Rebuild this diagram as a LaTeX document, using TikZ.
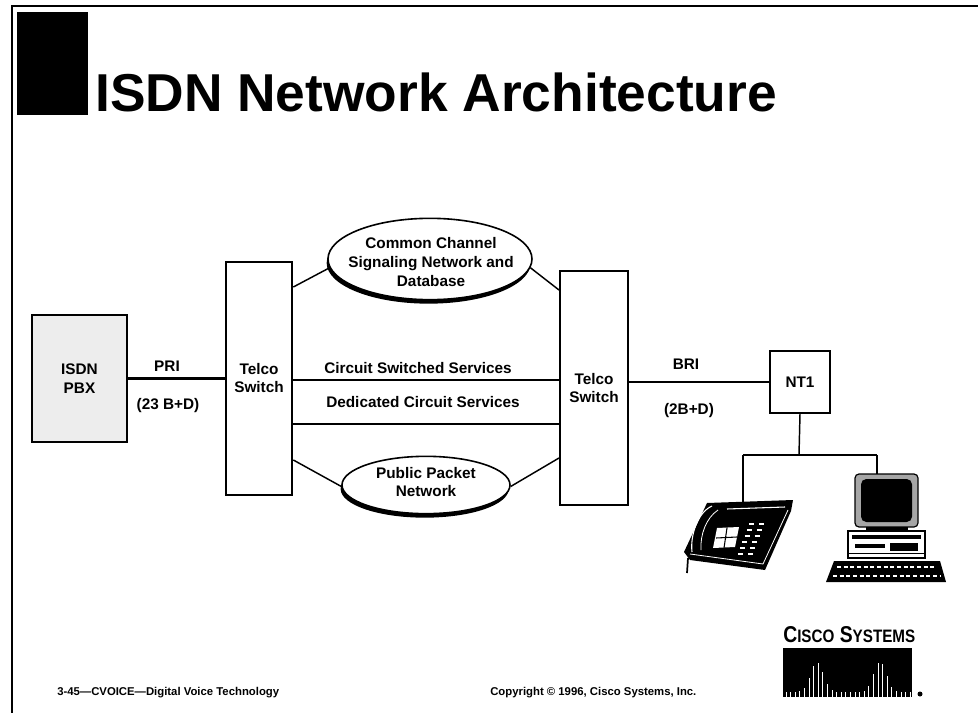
\documentclass[tikz,border=0pt]{standalone}
\usepackage{fontspec}
\setmainfont{Liberation Sans}
\usetikzlibrary{shapes.geometric,shadows}

\begin{document}
\begin{tikzpicture}[x=0.75pt,y=-0.75pt,
  lbl/.style={inner sep=0pt,align=center,font=\bfseries\fontsize{11.5}{14}\selectfont},
  swbox/.style={draw,line width=1.5pt,minimum width=50pt,minimum height=175pt,inner sep=0pt,align=center,font=\bfseries\fontsize{11.5}{13.5}\selectfont},
  netoval/.style={ellipse,draw,line width=1.2pt,fill=white,inner sep=0pt,
    drop shadow={shadow xshift=-1pt,shadow yshift=-3pt,opacity=1,fill=black}},
  link/.style={line width=1.1pt},
  trunk/.style={line width=1.9pt}]
\useasboundingbox (0,0) rectangle (978,713);

% page frame and title
\draw[line width=1.3pt] (978,6) -- (12,6) -- (12,713);
\fill (17,12) rectangle (88,115);
\node[anchor=base west,inner sep=0pt,font=\bfseries\fontsize{40}{40}\selectfont] (title) at (95,112) {ISDN Network Architecture};

% customer premises and switches
\node[draw,line width=1.5pt,fill=black!7,minimum width=71pt,minimum height=95pt,inner sep=0pt,align=center,
  font=\bfseries\fontsize{11.5}{14.5}\selectfont] (pbx) at (79.5,378.5) {ISDN\\PBX};
\node[swbox] (lsw) at (259,378.5) {Telco\\Switch};
\node[swbox,minimum width=51pt] (rsw) at (594,388) {Telco\\Switch};
\node[draw,line width=1.3pt,minimum width=45pt,minimum height=46.5pt,inner sep=0pt,
  font=\bfseries\fontsize{11.5}{14}\selectfont] (nt1) at (800,382) {NT1};

% carrier networks
\node[netoval,minimum width=153pt,minimum height=61pt] (ccs) at (430,259) {};
\node[lbl] (ccstxt) at (431,262) {Common Channel\\Signaling Network and\\Database};
\node[netoval,minimum width=126pt,minimum height=43pt] (ppn) at (426,485) {};
\node[lbl] (ppntxt) at (426,482) {Public Packet\\Network};

% trunks
\draw[trunk] (pbx.east) -- (lsw.west);
\node[lbl] (pri) at (167,366) {PRI};
\node[lbl] (prich) at (168,406) {(23 B+D)};
\draw[trunk] (rsw.east |- nt1.west) -- (nt1.west);
\node[lbl] (bri) at (686,364) {BRI};
\node[lbl] (brich) at (689,411) {(2B+D)};

% switch to switch
\draw[link] (lsw.east |- 0,287) -- (ccs.185);
\draw[link] (ccs.355) -- (rsw.west |- 0,290);
\draw[link] (lsw.east |- 0,460) -- (ppn.181);
\draw[link] (ppn.359) -- (rsw.west |- 0,458);
\draw[link] (lsw.east |- 0,380) -- (rsw.west |- 0,380);
\node[lbl] (css) at (418,368) {Circuit Switched Services};
\draw[link] (lsw.east |- 0,424) -- (rsw.west |- 0,424);
\node[lbl] (dcs) at (423,402) {Dedicated Circuit Services};

% terminal bus
\coordinate (bus) at (799,455);
\coordinate (phone) at (743,503);
\coordinate (pc) at (877,474);
\draw[link] (nt1.south) -- (bus);
\draw[link] (phone |- bus) -- (pc |- bus);
\draw[link] (phone |- bus) -- (phone);
\draw[link] (pc |- bus) -- (pc);

% telephone
\fill (707,503) -- (793,500) -- (791,511) -- (765,570) -- (690,560) -- (684,552) -- cycle;
\draw[white,line width=0.8pt] (727,509) -- (785,507);
\draw[white,line width=0.6pt] (690,554) -- (763,564) -- (788,510);
\draw[white,line width=0.8pt] (712,506) .. controls (698,512) and (690,535) .. (692,552);
\draw[white,line width=0.6pt] (718,510) .. controls (706,518) and (700,535) .. (701,550);
\fill[white] (717,528) -- (739,527) -- (735,547) -- (713,548) -- cycle;
\draw[line width=0.8pt] (716,538) -- (737,537) (727,528) -- (724,548);
\foreach \j in {0,...,5}
  \foreach \k in {0,1}
    \draw[white,line width=1.3pt] ({749+10*\k-2.2*\j},{524+6*\j}) -- ++(5,0);
\draw[line width=1.3pt] (688,558) -- (687,573);

% computer
\filldraw[fill=black!35,line width=0.9pt,rounded corners=3pt] (855,474) rectangle (918,527);
\fill[rounded corners=4pt] (861,479) rectangle (912,522);
\fill (866,527) rectangle (908,531);
\draw[line width=0.9pt,fill=white] (848,531) rectangle (925,558);
\fill (852,535) rectangle (921,539);
\fill (855,544) rectangle (885,548);
\fill (890,543) rectangle (918,551);
\draw[line width=0.7pt] (848,553) -- (925,553);
\fill (834,561) -- (940,561) -- (946,582) -- (826,582) -- cycle;
\draw[white,line width=1.2pt,dash pattern=on 3pt off 2pt] (837,567) -- (936,567) (833,576) -- (940,576);

% footer
\node[anchor=base west,inner sep=0pt,font=\bfseries\fontsize{8.5}{10}\selectfont] (course) at (57,695) {3-45---CVOICE---Digital Voice Technology};
\node[anchor=base west,inner sep=0pt,font=\bfseries\fontsize{8.5}{10}\selectfont] (copy) at (490,695) {Copyright © 1996, Cisco Systems, Inc.};

% logo
\node[anchor=south west,inner sep=0pt] (cisco) at (783,643)
  {\resizebox{99pt}{12pt}{\bfseries\fontsize{14}{14}\selectfont C\fontsize{11}{11}\selectfont ISCO\fontsize{14}{14}\selectfont\ S\fontsize{11}{11}\selectfont YSTEMS}};
\fill (783,648) rectangle (912,697);
\foreach \i in {0,...,27}{
  \pgfmathsetmacro\bx{786+4.6*\i}
  \pgfmathsetmacro\bh{5+30*exp(max(-8,-((\bx-817)/9)^2))+30*exp(max(-8,-((\bx-880)/9)^2))}
  \draw[white,line width=0.6pt] (\bx,697) -- (\bx,697-\bh);
}
\fill (920,694) circle (2.5);
\end{tikzpicture}
\end{document}
